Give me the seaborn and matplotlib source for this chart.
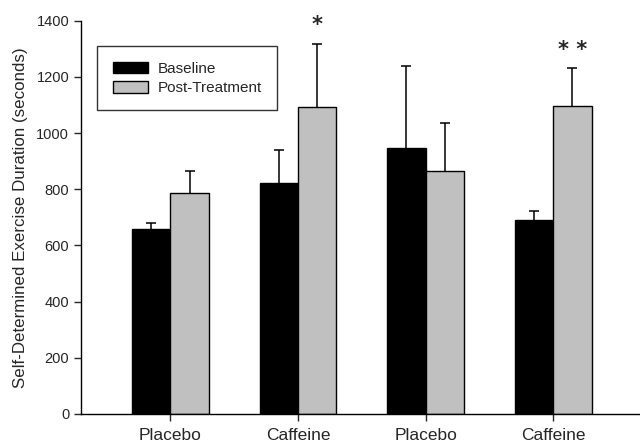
import pandas as pd
import numpy as np
import matplotlib.pyplot as plt
import seaborn as sns

# data
groups = ["g1", "g2", "g3", "g4"]
tick_labels = ["Placebo", "Caffeine", "Placebo", "Caffeine"]
baseline = [659, 822, 946, 690]
baseline_err = [21, 118, 294, 34]
post = [787, 1092, 864, 1097]
post_err = [79, 226, 172, 134]
stars = ["", "*", "", "* *"]

df = pd.DataFrame({
    "group": groups * 2,
    "condition": ["Baseline"] * 4 + ["Post-Treatment"] * 4,
    "value": baseline + post,
})

sns.set_style("ticks")
plt.rcParams['font.family'] = ['Liberation Sans', 'DejaVu Sans']

fig = plt.figure(figsize=(6.4, 4.45), dpi=100)
ax = fig.add_axes([0.1266, 0.0697, 0.8734, 0.8838])

sns.barplot(data=df, x="group", y="value", hue="condition",
            palette=["black", "#c0c0c0"], edgecolor="black", linewidth=1,
            width=0.6, gap=0, errorbar=None, ax=ax)

# upward-only error bars from the drawn bar centres
errs = [baseline_err, post_err]
tops = []
for cont, err in zip(ax.containers, errs):
    xs = [b.get_x() + b.get_width() / 2 for b in cont]
    hs = [b.get_height() for b in cont]
    eb = ax.errorbar(xs, hs, yerr=[np.zeros(len(err)), err], fmt="none",
                     ecolor="black", elinewidth=1.1, capsize=3.6, capthick=1.1)
    eb[1][0].set_visible(False)  # hide the lower caps
    tops.append((xs, [h + e for h, e in zip(hs, err)]))

# significance marks above post-treatment bars
for x, t, s in zip(tops[1][0], tops[1][1], stars):
    if s:
        ax.text(x, t + 30, s, ha="center", va="bottom", fontsize=15,
                fontweight="bold", family="DejaVu Sans")

ax.set_ylim(0, 1400)
ax.set_yticks(range(0, 1401, 200))
ax.set_xlim(-0.70, 3.68)
ax.set_xticks(range(4))
ax.set_xticklabels(tick_labels, fontsize=12.5)
ax.tick_params(axis="y", labelsize=10.5, length=5, width=1)
ax.tick_params(axis="x", length=5, width=1, pad=5)
ax.set_xlabel("")
ax.set_ylabel("Self-Determined Exercise Duration (seconds)", fontsize=12.2, labelpad=6)
sns.despine(ax=ax)
for sp in ["left", "bottom"]:
    ax.spines[sp].set_linewidth(1)
    ax.spines[sp].set_color("black")

leg = ax.legend(loc="upper left", bbox_to_anchor=(0.029, 0.935), fontsize=11,
                frameon=True, fancybox=False, edgecolor="black",
                handlelength=2.35, handleheight=0.8, handletextpad=0.6,
                borderpad=1.0, labelspacing=0.35, borderaxespad=0)
leg.get_frame().set_linewidth(1)

plt.savefig("out.png", dpi=100)
